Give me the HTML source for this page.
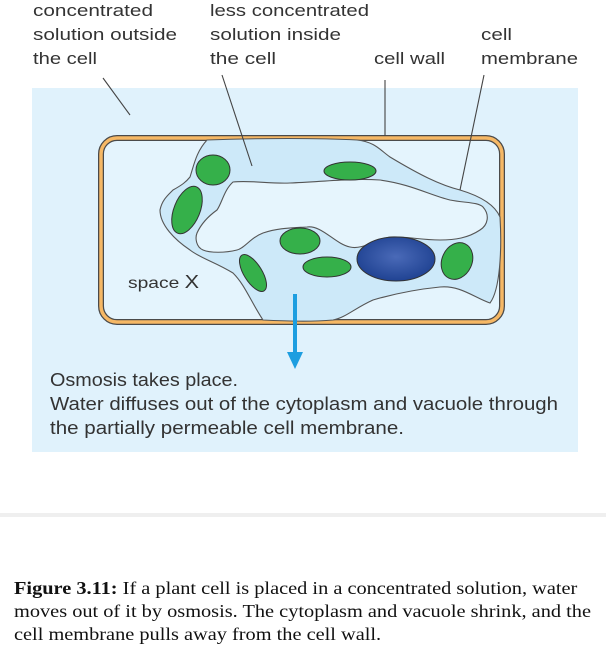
<!DOCTYPE html>
<html><head><style>
html,body{margin:0;padding:0;background:#fff;width:606px;height:650px;overflow:hidden}
svg{position:absolute;left:0;top:0}
.cap{position:absolute;left:14px;top:577px;width:580px;font-family:"Liberation Serif",serif;font-size:18.4px;line-height:23px;color:#111;transform:scaleX(1.106);transform-origin:0 0;white-space:nowrap}
</style></head><body>
<svg width="606" height="650" viewBox="0 0 606 650">
<defs>
<radialGradient id="nuc" cx="0.5" cy="0.45" r="0.6"><stop offset="0" stop-color="#4a6ab8"/><stop offset="1" stop-color="#1c3f8f"/></radialGradient>
</defs>
<rect x="32" y="88" width="546" height="364" fill="#e0f2fc"/>
<rect x="0" y="513" width="606" height="4" fill="#efefef"/>
<rect x="101" y="138" width="401" height="184" rx="16" fill="#e4f4fd" stroke="#4a4a4a" stroke-width="6"/>
<rect x="101" y="138" width="401" height="184" rx="16" fill="none" stroke="#f6b865" stroke-width="3.5"/>
<path d="M207,140 C260,138 320,138 357,140 C375,142 380,150 390,157 C420,175 440,185 460,190 C480,196 495,205 500,217 C502,250 500,290 490,303 C475,298 460,285 440,287 C410,290 390,295 373,300 C355,308 345,318 333,320 C310,322 285,321 263,320 C250,300 245,285 233,273 C215,262 200,258 190,250 C175,240 160,225 160,210 C162,200 168,195 173,190 C182,185 186,182 190,177 C194,165 196,152 207,140 Z" fill="#cde9f9" stroke="#555" stroke-width="1.1"/>
<path d="M233,182 C250,180 270,184 290,183 C320,182 350,178 380,180 C410,184 430,195 450,200 C465,203 478,202 483,207 C490,215 488,225 480,230 C468,238 455,240 440,240 C420,240 405,236 390,237 C375,240 362,250 350,247 C335,244 322,225 307,227 C290,228 278,228 263,233 C250,238 245,248 237,250 C225,253 210,253 203,250 C196,247 195,238 197,233 C202,222 210,215 217,210 C222,203 224,190 233,182 Z" fill="#e6f5fd" stroke="#555" stroke-width="1.1"/>
<g fill="#35b04a" stroke="#333" stroke-width="1">
<ellipse cx="213" cy="170" rx="17" ry="15"/>
<ellipse cx="187" cy="210" rx="13" ry="25" transform="rotate(22 187 210)"/>
<ellipse cx="350" cy="171" rx="26" ry="9"/>
<ellipse cx="300" cy="241" rx="20" ry="13"/>
<ellipse cx="327" cy="267" rx="24" ry="10"/>
<ellipse cx="253" cy="273" rx="9" ry="21" transform="rotate(-32 253 273)"/>
<ellipse cx="457" cy="261" rx="15" ry="19" transform="rotate(25 457 261)"/>
</g>
<ellipse cx="396" cy="259" rx="39" ry="22" fill="url(#nuc)" stroke="#333" stroke-width="1"/>
<g stroke="#444" stroke-width="1.1">
<line x1="103" y1="78" x2="130" y2="115"/>
<line x1="222" y1="75" x2="252" y2="166"/>
<line x1="385" y1="80" x2="385" y2="136"/>
<line x1="484" y1="75" x2="460" y2="190"/>
</g>
<rect x="293" y="294" width="4" height="60" fill="#1d9ee0"/>
<polygon points="287,352 303,352 295,369" fill="#1d9ee0"/>
<g font-family="Liberation Sans, sans-serif" font-size="17" fill="#333">
<text x="33" y="16" textLength="120" lengthAdjust="spacingAndGlyphs">concentrated</text>
<text x="33" y="40" textLength="144" lengthAdjust="spacingAndGlyphs">solution outside</text>
<text x="33" y="64" textLength="64" lengthAdjust="spacingAndGlyphs">the cell</text>
<text x="210" y="16" textLength="159" lengthAdjust="spacingAndGlyphs">less concentrated</text>
<text x="210" y="40" textLength="131" lengthAdjust="spacingAndGlyphs">solution inside</text>
<text x="210" y="64" textLength="66" lengthAdjust="spacingAndGlyphs">the cell</text>
<text x="374" y="64" textLength="71" lengthAdjust="spacingAndGlyphs">cell wall</text>
<text x="481" y="40" textLength="31" lengthAdjust="spacingAndGlyphs">cell</text>
<text x="481" y="64" textLength="97" lengthAdjust="spacingAndGlyphs">membrane</text>
<text x="128" y="288" font-size="16" textLength="71" lengthAdjust="spacingAndGlyphs">space <tspan font-size="18">X</tspan></text>
<text x="50" y="386" font-size="18" textLength="188" lengthAdjust="spacingAndGlyphs">Osmosis takes place.</text>
<text x="50" y="410" font-size="18" textLength="508" lengthAdjust="spacingAndGlyphs">Water diffuses out of the cytoplasm and vacuole through</text>
<text x="50" y="434" font-size="18" textLength="354" lengthAdjust="spacingAndGlyphs">the partially permeable cell membrane.</text>
</g>
</svg>
<div class="cap"><b>Figure 3.11:</b> If a plant cell is placed in a concentrated solution, water<br>moves out of it by osmosis. The cytoplasm and vacuole shrink, and the<br>cell membrane pulls away from the cell wall.</div>
</body></html>
